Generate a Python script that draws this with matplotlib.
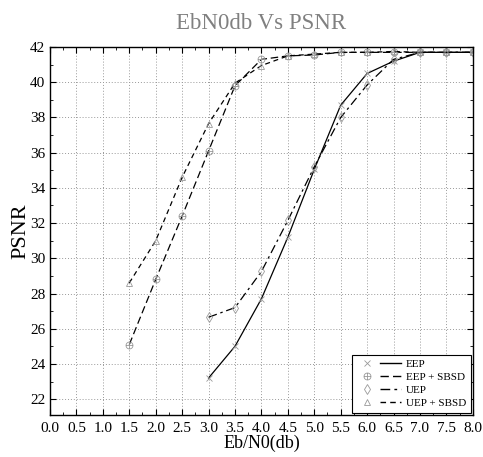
import matplotlib
matplotlib.use("Agg")
import matplotlib.pyplot as plt
from matplotlib.lines import Line2D
from matplotlib.path import Path
from matplotlib.legend_handler import HandlerTuple
from matplotlib.ticker import MultipleLocator

plt.rcParams['font.family'] = ['Liberation Serif', 'DejaVu Serif']

# Eb/N0 points for each scheme
x_eep = [3.0, 3.5, 4.0, 4.5, 5.0, 5.5, 6.0, 6.5, 7.0, 7.5, 8.0]
y_eep = [23.2, 25.0, 27.7, 31.2, 35.05, 38.7, 40.5, 41.2, 41.7, 41.7, 41.7]

x_eep_sbsd = [1.5, 2.0, 2.5, 3.0, 3.5, 4.0, 4.5, 5.0, 5.5, 6.0, 6.5, 7.0, 7.5, 8.0]
y_eep_sbsd = [25.1, 28.8, 32.4, 36.1, 39.8, 41.3, 41.5, 41.55, 41.7, 41.7,
              41.7, 41.7, 41.7, 41.7]

x_uep = [3.0, 3.5, 4.0, 4.5, 5.0, 5.5, 6.0, 6.5, 7.0, 7.5, 8.0]
y_uep = [26.65, 27.2, 29.25, 32.15, 35.2, 38.0, 39.85, 41.3, 41.7, 41.7, 41.7]

x_uep_sbsd = [1.5, 2.0, 2.5, 3.0, 3.5, 4.0, 4.5, 5.0, 5.5, 6.0, 6.5, 7.0, 7.5, 8.0]
y_uep_sbsd = [28.6, 31.0, 34.6, 37.65, 39.95, 40.95, 41.5, 41.6, 41.7, 41.7,
              41.75, 41.7, 41.7, 41.7]

labels = ["EEP", "EEP + SBSD", "UEP", "UEP + SBSD"]

# circle with a plus inside, drawn as outline only
circ = Path.unit_circle()
plus = Path([(-1, 0), (1, 0), (0, -1), (0, 1)],
            [Path.MOVETO, Path.LINETO, Path.MOVETO, Path.LINETO])
oplus = Path.make_compound_path(circ, plus)

markers = ["x", oplus, "d", "^"]
dashes = [None, (6, 3), (7, 3, 2, 3), (4, 3)]
series = [(x_eep, y_eep), (x_eep_sbsd, y_eep_sbsd),
          (x_uep, y_uep), (x_uep_sbsd, y_uep_sbsd)]

fig = plt.figure(figsize=(4.83, 4.57), dpi=100)
ax = fig.add_axes([0.1035, 0.092, 0.8755, 0.805])

mcol = "0.6"
handles = []
for (xs, ys), lab, mk, ds in zip(series, labels, markers, dashes):
    ln, = ax.plot(xs, ys, color="black", lw=0.9, marker=mk, ms=5,
                  mec=mcol, mfc="none", mew=0.6)
    if ds is not None:
        ln.set_dashes(ds)
    mh = Line2D([], [], ls="none", marker=mk, ms=5, mec=mcol, mfc="none",
                mew=0.6)
    lh = Line2D([], [], color="black", lw=1.0)
    if ds is not None:
        lh.set_dashes(ds)
    handles.append((mh, lh))

ax.set_xlim(0, 8)
ax.set_ylim(21.1, 42)
ax.xaxis.set_major_locator(MultipleLocator(0.5))
ax.xaxis.set_minor_locator(MultipleLocator(0.25))
ax.yaxis.set_major_locator(MultipleLocator(2))
ax.yaxis.set_minor_locator(MultipleLocator(1))
ax.set_xticklabels([f"{v:.1f}" for v in ax.get_xticks()])
ax.tick_params(which="both", direction="in", top=True, right=True,
               labelsize=11)
ax.tick_params(axis="x", which="major", pad=5)
ax.tick_params(which="major", length=4, width=0.8)
ax.tick_params(which="minor", length=2, width=0.6)
ax.grid(True, which="major", ls=(0, (1, 2)), color="0.6", lw=0.7)
for sp in ax.spines.values():
    sp.set_linewidth(1.0)

ax.set_title("EbN0db Vs PSNR", color="0.5", fontsize=16.5, pad=13)
ax.set_xlabel("Eb/N0(db)", fontsize=13, labelpad=0)
ax.set_ylabel("PSNR", fontsize=16, labelpad=0)

leg = ax.legend(handles, labels, loc="lower right", fontsize=8,
                handler_map={tuple: HandlerTuple(ndivide=2, pad=0.25)},
                handlelength=4.0, handletextpad=0.45, labelspacing=0.3,
                borderpad=0.4, borderaxespad=0.2, fancybox=False,
                framealpha=1, edgecolor="black")
leg.get_frame().set_linewidth(0.8)

fig.savefig("out.png", dpi=100)
